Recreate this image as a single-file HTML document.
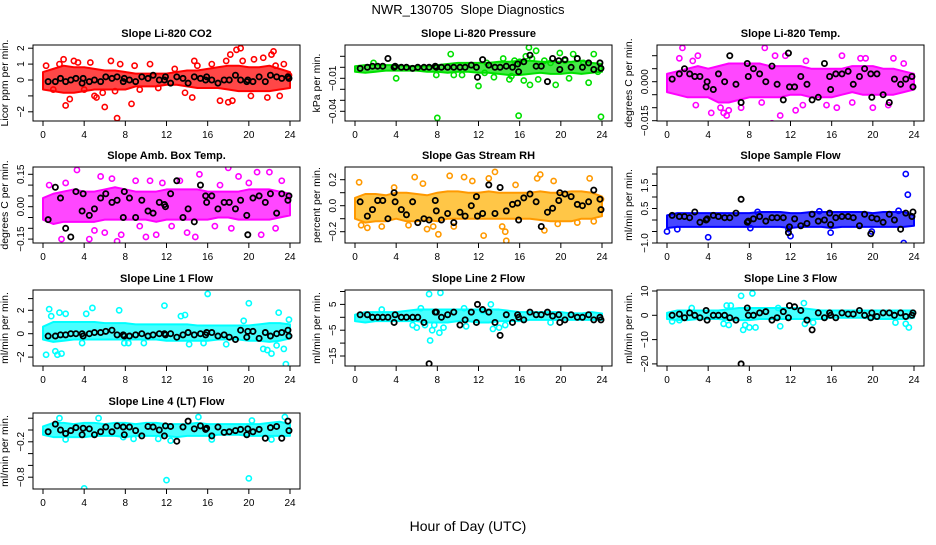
<!DOCTYPE html>
<html><head><meta charset="utf-8"><style>
body{margin:0;background:#fff;}
svg text{font-family:"Liberation Sans",Arial,sans-serif;}
</style></head><body>
<svg id="chart" width="936" height="540" xmlns="http://www.w3.org/2000/svg">
<rect width="936" height="540" fill="#fff"/>
<text x="468" y="14" text-anchor="middle" font-size="13">NWR_130705&#160; Slope Diagnostics</text>
<text x="468" y="531" text-anchor="middle" font-size="14">Hour of Day (UTC)</text>
</svg>
<script>
// shared black (reference) sample hours
const blackHours=[0.5,1.2,1.7,2.2,2.7,3.2,3.8,3.9,4.5,5.0,5.6,6.1,6.7,7.2,7.8,7.9,8.4,9.0,9.6,10.2,10.7,11.3,11.8,11.9,12.4,13.0,13.6,14.1,14.7,15.3,15.8,15.9,16.4,17.0,17.6,18.1,18.7,19.2,19.8,19.9,20.4,21.0,21.6,22.1,22.7,23.2,23.8,23.9];
const bandHours=[0,1,2,3,4,5,6,7,8,9,10,11,12,13,14,15,16,17,18,19,20,21,22,23,24];
const xTicks=[0,4,8,12,16,20,24];

// CO2
const co2Lo=[-0.6,-0.7,-0.8,-0.8,-0.7,-0.6,-0.6,-0.6,-0.6,-0.4,-0.4,-0.4,-0.3,-0.3,-0.4,-0.5,-0.5,-0.5,-0.6,-0.7,-0.7,-0.7,-0.7,-0.6,-0.5];
const co2Hi=[0.5,0.7,0.9,0.8,0.8,0.7,0.6,0.6,0.5,0.4,0.4,0.4,0.4,0.5,0.6,0.6,0.7,0.8,0.9,0.9,0.8,0.8,0.9,0.7,0.5];
const co2Hours=[0.3,1,1.6,2,2.2,2.6,3,3.4,4,4.6,5,5.2,5.8,6,6.6,7,7.2,7.5,8.6,8.9,9.4,10.4,11.2,12.8,13.8,14.5,14.7,15,16.4,17.2,17.8,18,18.2,18.4,18.8,19.2,19.4,20.2,20.5,21.4,21.8,22.2,22.4,22.6,23,23.4,23.9];
const co2Vals=[0.9,-0.6,1.0,1.3,-1.6,-1.2,1.2,1.1,-0.6,1.1,-1.0,-1.1,-0.8,-1.7,1.2,-0.7,-2.4,1.0,-1.5,0.9,-0.6,1.0,-0.5,0.7,-0.8,-1.1,1.2,0.9,1.0,-1.3,1.2,-1.4,1.6,-1.3,1.9,2.0,1.2,-1.0,1.3,1.4,-1.1,1.6,1.8,0.9,-1.0,1.0,0.3];
const co2Black=[-0.1,-0.1,0.1,-0.1,0.0,0.1,-0.2,0.1,-0.1,0.0,-0.1,0.2,0.1,0.2,-0.1,0.1,0.0,-0.1,0.2,0.1,0.3,0.0,0.0,0.2,-0.2,0.2,0.1,-0.2,0.2,0.1,0.0,0.2,0.0,-0.2,0.0,0.0,0.3,0.0,-0.1,0.0,-0.1,0.2,-0.1,0.3,0.2,0.1,0.2,0.1];

// Pressure
const prLo=[-0.004,-0.005,-0.004,-0.003,-0.003,-0.003,-0.003,-0.004,-0.004,-0.005,-0.004,-0.004,-0.005,-0.005,-0.006,-0.007,-0.007,-0.006,-0.005,-0.006,-0.006,-0.005,-0.006,-0.005,-0.004];
const prHi=[0.001,0.002,0.002,0.002,0.002,0.001,0.001,0.001,0.002,0.003,0.004,0.004,0.004,0.004,0.005,0.005,0.006,0.006,0.005,0.005,0.005,0.005,0.006,0.004,0.003];
const prHours=[1.8,4,7.9,8,9.3,9.6,10.4,12,12.6,12.8,13.5,14.4,15,15.2,15.5,15.9,16,16.4,16.6,16.9,17,17.2,17.6,17.8,18.4,19,19.5,19.9,20.4,20.8,21.2,21.6,22.2,22.7,23.2,23.9,23.6];
const prVals=[0.004,-0.01,-0.007,-0.046,0.012,-0.007,-0.007,-0.017,-0.005,0.004,-0.009,0.008,-0.011,-0.008,0.006,-0.044,0.005,-0.012,0.010,0.018,-0.016,0.008,0.015,-0.011,0.006,0.004,-0.016,0.013,0.006,-0.010,0.012,0.008,0.004,-0.014,0.012,-0.045,-0.004];
const prBlack=[-0.001,0,0.001,0.001,0.001,0.008,0,0.001,0,0,-0.001,0,0,0,0.001,0,0,0,0,0,0,0.002,0,-0.009,0.007,0.002,0,0,0.001,0,0.003,-0.004,0.005,0.011,0.001,0.001,-0.013,0.008,0.006,-0.002,0.007,0,0.008,0,0.004,-0.002,0.004,-0.001];

// Li-820 Temp
const tpLo=[-0.004,-0.005,-0.006,-0.006,-0.006,-0.008,-0.008,-0.007,-0.006,-0.006,-0.006,-0.006,-0.005,-0.005,-0.006,-0.006,-0.006,-0.005,-0.004,-0.005,-0.005,-0.005,-0.005,-0.004,-0.003];
const tpHi=[0.003,0.004,0.005,0.006,0.005,0.006,0.007,0.007,0.007,0.007,0.006,0.006,0.006,0.006,0.005,0.005,0.005,0.005,0.006,0.006,0.006,0.005,0.005,0.004,0.003];
const tpHours=[1.5,1.2,2.5,2.8,3,4.3,5.2,5.5,5.8,6,7.2,9.2,9.5,10.2,10.5,11,11.5,12.5,13.2,13.5,15.5,16.5,17,18,18.8,19.3,20,21.5,22,23];
const tpVals=[0.013,0.009,0.008,-0.009,0.010,-0.012,-0.010,-0.012,-0.013,-0.011,-0.010,-0.008,0.013,-0.016,0.010,-0.013,0.010,-0.011,-0.009,0.008,-0.009,-0.010,0.010,-0.008,0.009,0.009,-0.010,-0.009,0.009,0.007];
const tpBlack=[0.001,0.003,0.005,0.003,0.002,0.002,-0.002,0.0,-0.003,0.003,0.000,0.010,-0.001,-0.008,0.007,0.002,0.005,0.003,0.000,0.006,-0.001,-0.007,0.011,-0.002,-0.002,0.002,-0.001,-0.007,-0.006,0.007,0.002,-0.003,0.003,0.003,0.004,-0.001,0.002,0.005,0.003,-0.006,0.003,-0.005,-0.008,0.001,-0.001,0.001,0.002,-0.002];

// Amb box temp
const abLo=[-0.06,-0.08,-0.07,-0.07,-0.07,-0.07,-0.06,-0.06,-0.06,-0.06,-0.06,-0.07,-0.06,-0.06,-0.06,-0.06,-0.06,-0.05,-0.05,-0.06,-0.06,-0.06,-0.06,-0.05,-0.04];
const abHi=[0.04,0.06,0.07,0.08,0.07,0.07,0.08,0.09,0.08,0.07,0.07,0.07,0.08,0.08,0.08,0.08,0.07,0.07,0.07,0.07,0.08,0.08,0.08,0.07,0.06];
const abHours=[0.6,1.8,2.2,3.3,4.5,5,5.6,6,6.7,7,7.2,7.6,8.4,9,9.4,10,10.4,11,11.6,12.5,13.3,14,14.8,15.2,16.7,17.2,18,18.3,19,20,20.5,20.8,21.2,22,22.6,23.2];
const abVals=[0.1,-0.15,0.11,0.17,-0.15,-0.11,0.14,-0.12,0.13,0.21,-0.16,-0.13,0.20,0.12,-0.09,-0.14,0.12,-0.13,0.11,-0.09,0.12,-0.12,-0.14,0.15,-0.09,0.10,0.18,-0.10,0.14,0.11,-0.21,0.16,-0.13,0.16,-0.10,0.12];
const abBlack=[-0.06,0.09,0.04,-0.10,-0.14,0.07,-0.02,0.06,-0.04,-0.01,0.04,0.06,0.02,0.03,-0.05,0.07,0.04,-0.05,0.03,-0.02,-0.03,0.02,0.01,0.00,0.06,0.12,-0.05,-0.01,-0.07,0.10,0.05,0.02,0.05,-0.01,0.02,0.02,-0.01,0.03,-0.04,-0.13,0.04,0.05,0.02,0.06,-0.03,0.06,0.03,0.05];

// Gas stream RH
const rhLo=[-0.10,-0.13,-0.12,-0.12,-0.10,-0.12,-0.12,-0.11,-0.12,-0.10,-0.10,-0.10,-0.10,-0.10,-0.10,-0.10,-0.10,-0.10,-0.11,-0.12,-0.12,-0.12,-0.10,-0.10,-0.08];
const rhHi=[0.06,0.09,0.09,0.08,0.10,0.10,0.09,0.08,0.10,0.11,0.11,0.10,0.10,0.11,0.10,0.10,0.10,0.10,0.11,0.10,0.10,0.11,0.11,0.10,0.07];
const rhHours=[0.4,0.6,1.2,2.6,3.8,5.2,5.8,6.6,7,7.6,8.1,9.2,9.6,10.6,11.4,12.5,13.0,13.6,14.3,14.6,14.7,15.6,17.7,18,18.4,19.3,19.7,21.6,22.8,23.2,23.9];
const rhVals=[0.18,-0.15,-0.17,-0.16,0.14,-0.15,0.22,0.17,-0.18,-0.16,-0.22,0.23,-0.16,0.22,0.19,-0.23,0.21,0.26,-0.16,-0.20,-0.27,0.16,0.21,0.24,-0.19,0.19,-0.14,-0.13,0.21,-0.12,0.05];
const rhBlack=[0.03,-0.08,-0.03,0.04,0.04,-0.10,0.10,0.03,-0.03,-0.07,0.03,-0.13,-0.10,-0.11,0.04,-0.04,-0.11,-0.06,-0.13,-0.05,-0.08,0.00,0.07,-0.08,-0.06,0.16,-0.06,0.14,-0.04,0.01,0.02,-0.11,0.06,0.09,0.03,-0.16,-0.05,-0.02,0.04,0.10,0.09,0.07,0.01,0.00,0.03,0.12,0.05,-0.03];

// Sample flow
const sfLo=[-0.35,-0.3,-0.3,-0.3,-0.3,-0.3,-0.3,-0.3,-0.3,-0.3,-0.3,-0.3,-0.35,-0.3,-0.3,-0.3,-0.35,-0.3,-0.3,-0.3,-0.3,-0.3,-0.3,-0.3,-0.25];
const sfHi=[0.2,0.3,0.3,0.3,0.3,0.3,0.3,0.3,0.3,0.35,0.35,0.35,0.3,0.3,0.35,0.35,0.35,0.35,0.35,0.35,0.3,0.35,0.35,0.35,0.2];
const sfHours=[0,1,4,8.1,11.8,12,15.9,19.9,23,23.2,23.4,22.5,8.8,14.8];
const sfVals=[-0.5,-0.4,-0.75,-0.35,-0.4,-0.7,-0.55,-0.5,-1.0,2.0,1.1,0.4,0.35,0.38];
const sfBlack=[0.2,0.15,0.15,0.1,0.35,-0.1,0.0,0.05,0.2,0.15,0.1,0.1,0.3,0.9,-0.1,-0.05,0.05,0.15,-0.05,0.1,0.1,0.1,-0.55,-0.3,0.05,-0.25,-0.15,0.25,-0.05,0.0,0.3,-0.2,0.1,0.15,0.15,0.1,-0.25,0.25,-0.6,0.1,0.05,-0.1,0.25,0.0,-0.4,0.3,0.15,0.35];

// Line 1
const l1Lo=[-0.5,-0.7,-0.6,-0.5,-0.5,-0.5,-0.5,-0.5,-0.5,-0.5,-0.5,-0.5,-0.6,-0.6,-0.6,-0.6,-0.6,-0.5,-0.5,-0.5,-0.6,-0.6,-0.7,-0.6,-0.4];
const l1Hi=[0.6,1.0,1.0,1.0,1.0,1.0,0.9,0.9,0.9,0.8,0.8,0.8,0.8,0.8,0.8,0.7,0.7,0.7,0.7,0.7,0.7,0.8,0.9,0.9,0.8];
const l1Hours=[0.3,0.6,0.8,1.2,1.4,1.8,1.6,2.2,3.8,4.2,4.8,7.4,7.9,8.3,9.8,11.8,13.4,13.8,14.2,15.6,16,17.8,19.5,20,21.4,21.8,22.2,22.7,22.9,23.4,23.6,23.9];
const l1Vals=[-1.8,2.1,1.5,-1.5,-1.8,-1.7,1.8,1.7,-0.8,1.7,2.2,2.0,-0.8,-0.8,-0.8,2.4,1.5,1.6,-0.9,-0.8,3.4,-0.9,1.1,2.6,-1.3,-1.4,-1.7,-1.0,1.8,-1.3,-2.6,1.2];
const l1Black=[-0.2,-0.2,-0.1,-0.1,0.0,0.0,0.0,-0.2,0.0,0.1,0.1,0.2,0.3,-0.1,-0.1,-0.2,-0.2,-0.1,0.0,-0.2,-0.1,0.0,0.0,-0.1,0.0,-0.3,-0.1,0.1,-0.1,0.0,-0.1,0.1,0.1,-0.2,-0.1,-0.3,-0.5,0.3,-0.3,0.2,0.2,-0.4,0.1,-0.2,0.0,0.1,0.3,-0.2];

// Line 2
const l2Lo=[-1.5,-2,-1.5,-1.5,-1.5,-1.5,-1.5,-2,-2,-2,-1.5,-1.5,-2,-2,-1.5,-1.5,-1.5,-1,-1,-1,-1,-1,-1,-1,-1];
const l2Hi=[1,2,2,2,2,2.5,3,3,3,3,3,3,3,3,3,2.5,2,2,2,2,2,1.5,1.5,2,1.5];
const l2Hours=[2.6,5.6,6,6.4,6.8,7.2,7.3,7.5,7.7,8.2,8.3,8.6,10.6,10.8,12.4,13.2,13.4,14,14.6,19];
const l2Vals=[3,-3,-4,3.5,-3,9,-9,-5,-3,-6,9.5,-4,3.5,-3.5,2.5,5,-4.5,-4,-3,-2];
const l2Black=[1,1,0,0,0,0,-2,1,0,0,0,0,-2,-18,2,2,0,1,2,-3,-1,2,-2,5,3,2,-2,-7,1,-2,1,0,-1,2,1,1,2,0.5,1,-2,-1,1,0,0,1,-1,0,-1];

// Line 3
const l3Lo=[-1.5,-2,-2,-1.5,-1.5,-1.5,-2,-2,-2,-1.5,-1.5,-1.5,-1.5,-1.5,-1.5,-1.5,-1,-1,-1,-1,-1.5,-1.5,-1.5,-1.5,-1];
const l3Hi=[1,2,2,2,2,2,2.5,3,3,3,3,3,3,3,2.5,2,2,2,2,2,2,2,2,2,2];
const l3Hours=[0.5,1.2,2.4,5.5,5.8,6,6.2,7.2,7.4,7.6,8,8.3,8.6,10.8,11,13.3,13.4,14.2,22.2,23.2,23.5];
const l3Vals=[-2.5,-2,3,-3.5,4,-4,4,8,-6,-4,-5,9,-5,3,-4.5,5,-3.5,-3,-3,-3.5,-5];
const l3Black=[0,0.5,-1,1,0,-1,2,-2,0,0,0,-1,-2,-20,3,0,0,1,1.5,-2,-1,1.5,-1,4,3.5,2,-2,-6,1,-1,1,0,-1,1,0.5,0.5,2,0,-1,1,-0.5,1,1,0,1,-0.5,0,1];

// Line 4
const l4Lo=[-0.08,-0.12,-0.12,-0.12,-0.12,-0.1,-0.1,-0.1,-0.12,-0.1,-0.1,-0.1,-0.1,-0.12,-0.1,-0.1,-0.1,-0.08,-0.08,-0.08,-0.1,-0.1,-0.1,-0.1,-0.1];
const l4Hi=[0.06,0.12,0.12,0.1,0.12,0.12,0.1,0.12,0.12,0.1,0.12,0.12,0.1,0.1,0.1,0.12,0.1,0.1,0.1,0.1,0.1,0.1,0.12,0.14,0.1];
const l4Hours=[1.6,2.2,4,5.4,7.8,8.8,11.2,12,12.4,15.1,16.4,20,20.3,22.2,23.5];
const l4Vals=[0.2,-0.16,-0.99,0.2,-0.12,-0.15,-0.15,-0.85,-0.18,0.22,-0.16,-0.82,0.16,-0.16,0.22];
const l4Black=[-0.03,0.1,0.0,-0.06,-0.01,0.04,-0.08,0.03,0.02,-0.08,-0.03,0.05,-0.03,0.07,0.05,-0.08,0.05,-0.01,-0.1,0.06,0.05,0.0,-0.1,0.07,0.06,-0.19,0.05,0.15,0.02,0.07,0.01,0.03,-0.1,0.05,-0.04,-0.03,-0.01,0.01,-0.08,0.02,-0.03,0.01,-0.14,0.04,0.06,-0.14,0.15,-0.01];

const NS='http://www.w3.org/2000/svg';
const svg=document.getElementById('chart');
function mk(tag,attrs,parent){const e=document.createElementNS(NS,tag);for(const k in attrs)e.setAttribute(k,attrs[k]);(parent||svg).appendChild(e);return e;}

const colLeft=[33,345,657], rowTop=[45,167,290,413], W=267, H=76;
const panels=[
 {key:'co2',title:'Slope Li-820 CO2',yl:'Licor ppm per min.',c:0,r:0,zero:80,sc:15.9,ticks:[-2,-1,0,1,2],labels:[2,1,0,-2],fmt:v=>v<0?'\u22122':String(v),lo:co2Lo,hi:co2Hi,h:co2Hours,v:co2Vals,b:co2Black,col:'#ff0000'},
 {key:'pressure',title:'Slope Li-820 Pressure',yl:'kPa per min.',c:1,r:0,zero:67.3,sc:1100,ticks:[0.01,0,-0.01,-0.02,-0.03,-0.04],labels:[-0.01,-0.04],fmt:v=>'\u2212'+Math.abs(v).toFixed(2),lo:prLo,hi:prHi,h:prHours,v:prVals,b:prBlack,col:'#00e000'},
 {key:'li820-temp',title:'Slope Li-820 Temp.',yl:'degrees C per min.',c:2,r:0,zero:81.7,sc:2600,ticks:[0.01,0.005,0,-0.005,-0.01,-0.015],labels:[0,-0.015],fmt:v=>v<0?'\u22120.015':'0.000',lo:tpLo,hi:tpHi,h:tpHours,v:tpVals,b:tpBlack,col:'#ff00ff'},
 {key:'amb-box-temp',title:'Slope Amb. Box Temp.',yl:'degrees C per min.',c:0,r:1,zero:206.7,sc:216,ticks:[0.15,0.1,0.05,0,-0.05,-0.1,-0.15],labels:[0.15,0,-0.15],fmt:v=>(v<0?'\u2212':'')+Math.abs(v).toFixed(2),lo:abLo,hi:abHi,h:abHours,v:abVals,b:abBlack,col:'#ff00ff'},
 {key:'gas-stream-rh',title:'Slope Gas Stream RH',yl:'percent per min.',c:1,r:1,zero:205.7,sc:130,ticks:[0.2,0.1,0,-0.1,-0.2],labels:[0.2,0,-0.2],fmt:v=>(v<0?'\u2212':'')+Math.abs(v).toFixed(1),lo:rhLo,hi:rhHi,h:rhHours,v:rhVals,b:rhBlack,col:'#ff9900',fill:'#ffb000'},
 {key:'sample-flow',title:'Slope Sample Flow',yl:'ml/min per min.',c:2,r:1,zero:220,sc:23,ticks:[2,1.5,1,0.5,0,-0.5,-1],labels:[1.5,0.5,-1],fmt:v=>(v<0?'\u2212':'')+Math.abs(v).toFixed(1),lo:sfLo,hi:sfHi,h:sfHours,v:sfVals,b:sfBlack,col:'#0000ff'},
 {key:'line1-flow',title:'Slope Line 1 Flow',yl:'ml/min per min.',c:0,r:2,zero:333.7,sc:11.7,ticks:[3,2,1,0,-1,-2],labels:[2,0,-2],fmt:v=>(v<0?'\u2212':'')+Math.abs(v),lo:l1Lo,hi:l1Hi,h:l1Hours,v:l1Vals,b:l1Black,col:'#00ffff'},
 {key:'line2-flow',title:'Slope Line 2 Flow',yl:'ml/min per min.',c:1,r:2,zero:317.3,sc:2.58,ticks:[10,5,0,-5,-10,-15],labels:[5,-5,-15],fmt:v=>(v<0?'\u2212':'')+Math.abs(v),lo:l2Lo,hi:l2Hi,h:l2Hours,v:l2Vals,b:l2Black,col:'#00ffff'},
 {key:'line3-flow',title:'Slope Line 3 Flow',yl:'ml/min per min.',c:2,r:2,zero:315.3,sc:2.43,ticks:[10,0,-10,-20],labels:[10,0,-10,-20],fmt:v=>(v<0?'\u2212':'')+Math.abs(v),lo:l3Lo,hi:l3Hi,h:l3Hours,v:l3Vals,b:l3Black,col:'#00ffff'},
 {key:'line4-flow',title:'Slope Line 4 (LT) Flow',yl:'ml/min per min.',c:0,r:3,zero:430,sc:59,ticks:[0.2,0,-0.2,-0.4,-0.6,-0.8],labels:[-0.2,-0.8],fmt:v=>'\u2212'+Math.abs(v).toFixed(1),lo:l4Lo,hi:l4Hi,h:l4Hours,v:l4Vals,b:l4Black,col:'#00ffff'}
];

panels.forEach(p=>{
  const L=colLeft[p.c], T=rowTop[p.r], B=T+H;
  const xs=h=>L+10+h*(W-20)/24;
  const ys=v=>p.zero-v*p.sc;
  const g=mk('g',{});
  
  
  const cp='clip-'+p.key;
  const cl=mk('clipPath',{id:cp},g); mk('rect',{x:L,y:T,width:W,height:H},cl);
  const t=mk('text',{x:L+W/2,y:T-8,'text-anchor':'middle','font-size':'11','font-weight':'bold'},g);
  t.textContent=p.title;
  
  
  const yt=mk('text',{transform:`translate(${L-25},${T+H/2}) rotate(-90)`,'text-anchor':'middle','font-size':'10.5'},g);
  yt.textContent=p.yl;
  
  
  const data=mk('g',{'clip-path':`url(#${cp})`},g);
  let pts=[];
  bandHours.forEach((h,i)=>pts.push(xs(h)+','+ys(p.hi[i])));
  for(let i=bandHours.length-1;i>=0;i--)pts.push(xs(bandHours[i])+','+ys(p.lo[i]));
  const band=mk('polygon',{points:pts.join(' '),fill:p.fill||p.col,'fill-opacity':'0.72',stroke:p.col,'stroke-width':'2','stroke-linejoin':'round'},data);
  
  
  p.h.forEach((h,i)=>{
    const c=mk('circle',{cx:xs(h),cy:ys(p.v[i]),r:2.6,fill:'none',stroke:p.col,'stroke-width':'1.6'},data);
    
    
  });
  blackHours.forEach((h,i)=>{
    const c=mk('circle',{cx:xs(h),cy:ys(p.b[i]),r:2.6,fill:'none',stroke:'#000','stroke-width':'1.8'},data);
    
    
  });
  const box=mk('rect',{x:L,y:T,width:W,height:H,fill:'none',stroke:'#000','stroke-width':'1'},g);
  
  
  xTicks.forEach(h=>{
    mk('line',{x1:xs(h),x2:xs(h),y1:B,y2:B+5,stroke:'#000'},g);
    const tx=mk('text',{x:xs(h),y:B+17,'text-anchor':'middle','font-size':'10'},g);
    tx.textContent=h;
    
    
  });
  p.ticks.forEach(v=>{ const y=ys(v); if(y>=T-1&&y<=B+1) mk('line',{x1:L-5,x2:L,y1:y,y2:y,stroke:'#000'},g); });
  p.labels.forEach(v=>{
    const ty=mk('text',{transform:`translate(${L-9},${ys(v)}) rotate(-90)`,'text-anchor':'middle','font-size':'10'},g);
    ty.textContent=p.fmt(v);
    
    
  });
});
</script>
</body></html>
